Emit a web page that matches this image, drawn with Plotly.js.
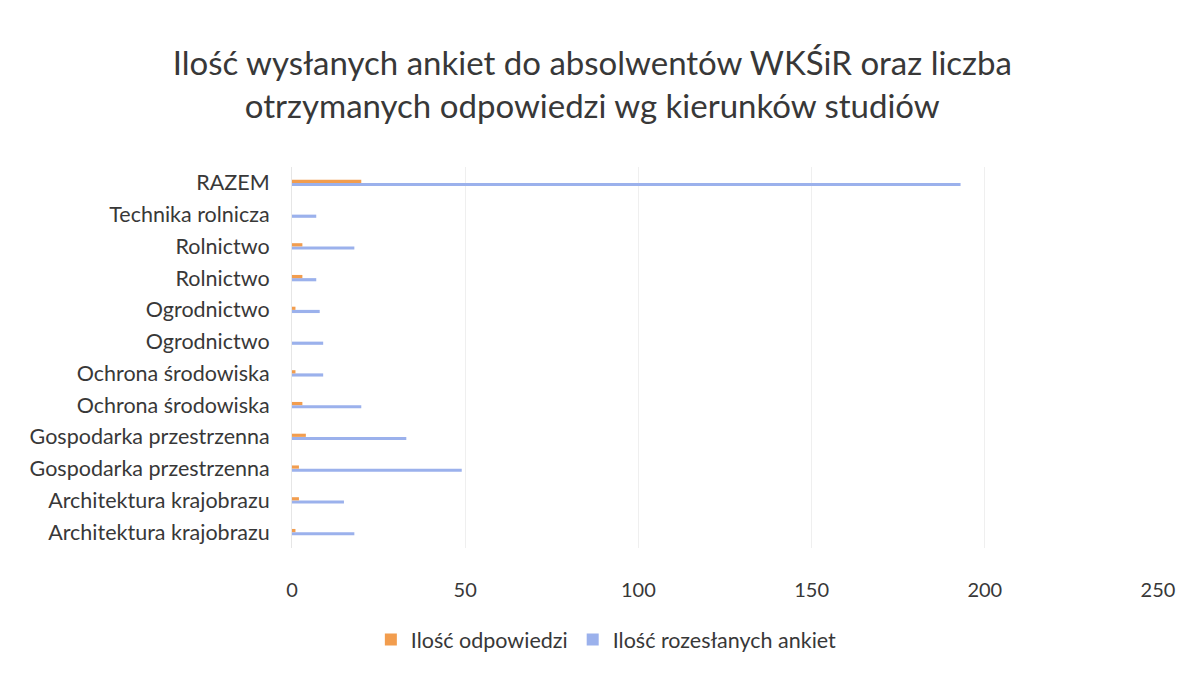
<!DOCTYPE html>
<html>
<head>
<meta charset="utf-8">
<script src="https://cdn.plot.ly/plotly-3.0.1.min.js"></script>
<style>html,body{margin:0;padding:0;background:#fff;}#chart{width:1199px;height:678px;}</style>
</head>
<body>
<div id="chart"></div>
<script>
const categories = [
  "Architektura krajobrazu", "Architektura krajobrazu",
  "Gospodarka przestrzenna", "Gospodarka przestrzenna",
  "Ochrona środowiska", "Ochrona środowiska",
  "Ogrodnictwo", "Ogrodnictwo",
  "Rolnictwo", "Rolnictwo",
  "Technika rolnicza", "RAZEM"
];
const odpowiedzi = [1, 2, 2, 4, 3, 1, 0, 1, 3, 3, 0, 20];
const ankiety = [18, 15, 49, 33, 20, 9, 9, 8, 7, 18, 7, 193];
const xTicks = [0, 50, 100, 150, 200, 250];

const pos = categories.map((c, i) => i);
const font = "Lato, 'Open Sans', sans-serif";
const txt = "#383838";

const traces = [
  {
    type: "bar", orientation: "h", name: "Ilość rozesłanych ankiet",
    x: ankiety, y: pos, marker: {color: "#9BB1EC"}, legendrank: 2,
    hoverinfo: "x"
  },
  {
    type: "bar", orientation: "h", name: "Ilość odpowiedzi",
    x: odpowiedzi, y: pos, marker: {color: "#F29D4E"}, legendrank: 1,
    hoverinfo: "x"
  }
];

const layout = {
  width: 1199, height: 678,
  paper_bgcolor: "#fff", plot_bgcolor: "#fff",
  font: {family: font, color: txt, size: 21},
  title: {
    text: "Ilość wysłanych ankiet do absolwentów WKŚiR oraz liczba<br>otrzymanych odpowiedzi wg kierunków studiów",
    font: {family: font, size: 33, color: txt},
    x: 0.494, xanchor: "center", y: 0.889, yanchor: "middle"
  },
  margin: {l: 292, r: 41, t: 167, b: 130},
  barmode: "group", bargap: 0.8, bargroupgap: 0,
  xaxis: {
    range: [0, 250], tickvals: xTicks, ticktext: xTicks.map(String),
    showgrid: true, gridcolor: "#efefef", gridwidth: 1,
    zeroline: false, showline: false, ticks: "",
    ticklabelstandoff: 28, tickfont: {size: 20, color: txt}
  },
  yaxis: {
    range: [-0.5, 11.5], tickvals: pos, ticktext: categories,
    showgrid: false, zeroline: false, showline: true, linecolor: "#e6e6e6",
    ticks: "", ticklabelstandoff: 17, tickfont: {size: 21.5, color: txt}
  },
  showlegend: true,
  legend: {
    orientation: "h", x: 0.363, xanchor: "center", y: -0.24, yanchor: "middle",
    font: {size: 21.5, color: txt}, itemwidth: 30
  }
};

Plotly.newPlot("chart", traces, layout, {displayModeBar: false, staticPlot: true});
</script>
</body>
</html>
